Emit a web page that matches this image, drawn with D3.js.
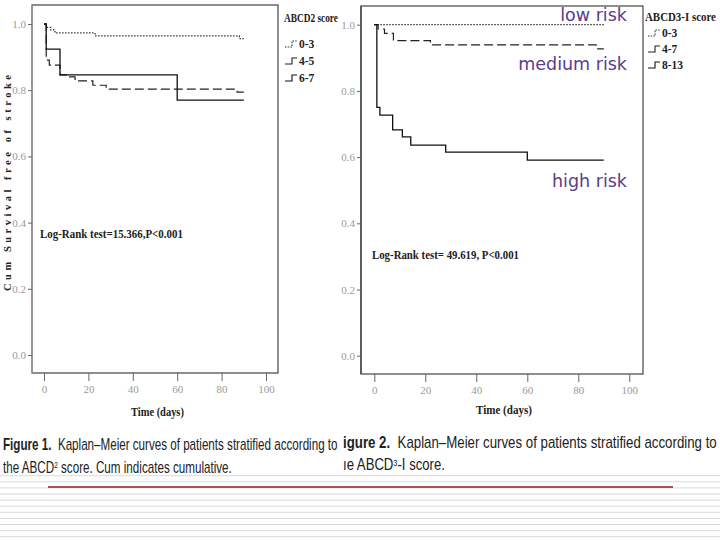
<!DOCTYPE html>
<html><head><meta charset="utf-8">
<script src="https://cdn.jsdelivr.net/npm/d3@7"></script>
<style>
html,body{margin:0;padding:0;background:#fff;}
svg{display:block;}
</style></head>
<body>
<script>
// ---------- data ----------
const xTickValues = [0, 20, 40, 60, 80, 100];
const yTickValues = [0.0, 0.2, 0.4, 0.6, 0.8, 1.0];

const abcd2Groups = ["0-3", "4-5", "6-7"];
const abcd2Time03 = [0, 1, 3, 5, 23, 88, 90];
const abcd2Surv03 = [1.0, 0.99, 0.982, 0.973, 0.964, 0.956, 0.956];
const abcd2Time45 = [0, 1, 2.4, 7.2, 11, 14, 22, 28, 87, 90];
const abcd2Surv45 = [1.0, 0.891, 0.876, 0.846, 0.840, 0.828, 0.815, 0.803, 0.794, 0.794];
const abcd2Time67 = [0, 1, 7.2, 60, 90];
const abcd2Surv67 = [1.0, 0.924, 0.846, 0.770, 0.770];

const abcd3Groups = ["0-3", "4-7", "8-13"];
const abcd3Time03 = [0, 90];
const abcd3Surv03 = [1.0, 1.0];
const abcd3Time47 = [0, 1.5, 4, 7.5, 22, 87, 90];
const abcd3Surv47 = [1.0, 0.987, 0.974, 0.952, 0.939, 0.927, 0.927];
const abcd3Time813 = [0, 1, 2.2, 7.2, 11, 14.3, 28, 60, 90];
const abcd3Surv813 = [1.0, 0.75, 0.727, 0.682, 0.661, 0.636, 0.615, 0.591, 0.591];

const riskLabels = ["low risk", "medium risk", "high risk"];
const logRank1 = "Log-Rank test=15.366,P\u003C0.001";
const logRank2 = "Log-Rank test= 49.619, P\u003C0.001";

// ---------- drawing ----------
const svg = d3.select("body").append("svg").attr("width", 720).attr("height", 540);
const serif = "'Liberation Serif','DejaVu Serif',serif";
const styles = [
  {dash: "1.5,1.5", width: 1.2, color: "#333"},
  {dash: "9,4", width: 1.2, color: "#222"},
  {dash: null, width: 1.3, color: "#111"}
];

// squeeze a text horizontally to a given width (like a condensed face)
function fit(sel, x, y, width) {
  sel.attr("x", 0).attr("y", 0);
  const w = sel.node().getComputedTextLength();
  sel.attr("transform", `translate(${x},${y}) scale(${(width / w).toFixed(4)},1)`);
  return sel;
}

function panel(cfg) {
  const g = svg.append("g");
  const x = d3.scaleLinear().domain([0, 100]).range(cfg.xr);
  const y = d3.scaleLinear().domain([0, 1]).range(cfg.yr);
  g.append("rect").attr("x", cfg.box[0]).attr("y", cfg.box[1])
    .attr("width", cfg.box[2] - cfg.box[0]).attr("height", cfg.box[3] - cfg.box[1])
    .attr("fill", "none").attr("stroke", "#444").attr("stroke-width", 1.2);
  g.append("line").attr("x1", cfg.box[0]).attr("x2", cfg.box[0])
    .attr("y1", cfg.box[1]).attr("y2", cfg.box[3])
    .attr("stroke", cfg.leftColor).attr("stroke-width", 1.3);
  const ya = g.append("g").attr("transform", `translate(${cfg.box[0]},0)`)
    .call(d3.axisLeft(y).tickValues(yTickValues).tickFormat(d3.format(".1f")).tickSize(4).tickPadding(2));
  const xa = g.append("g").attr("transform", `translate(0,${cfg.box[3]})`)
    .call(d3.axisBottom(x).tickValues(xTickValues).tickFormat(d3.format("d")).tickSize(8).tickPadding(4));
  [ya, xa].forEach(a => {
    a.select(".domain").remove();
    a.selectAll(".tick line").attr("stroke", "#666");
    a.selectAll("text").attr("fill", "#9a9a9a").attr("font-family", serif).attr("font-size", 11);
  });
  const line = d3.line().x(d => x(d[0])).y(d => y(d[1])).curve(d3.curveStepAfter);
  cfg.series.forEach((s, i) => {
    const pts = s.t.map((t, k) => [t, s.s[k]]);
    g.append("path").attr("d", line(pts)).attr("fill", "none")
      .attr("stroke", styles[i].color).attr("stroke-width", styles[i].width)
      .attr("stroke-dasharray", styles[i].dash);
  });
  fit(g.append("text").text(cfg.legTitle)
    .attr("font-family", serif).attr("font-size", 12).attr("font-weight", "bold").attr("fill", "#222"),
    cfg.leg[0], cfg.leg[1], cfg.legW);
  cfg.groups.forEach((name, i) => {
    const yy = cfg.leg[1] + cfg.legDy0 + i * cfg.legStep;
    const lx = cfg.leg[0] + cfg.legIndent;
    g.append("path").attr("d", `M${lx},${yy - 1}h7v-6h5`).attr("fill", "none")
      .attr("stroke", styles[i].color).attr("stroke-width", 1.1)
      .attr("stroke-dasharray", i === 0 ? "1.5,1.2" : null);
    g.append("text").attr("x", lx + 14).attr("y", yy).text(name)
      .attr("font-family", serif).attr("font-size", 11.5).attr("font-weight", "bold").attr("fill", "#222");
  });
  fit(g.append("text").text(cfg.lrText)
    .attr("font-family", serif).attr("font-size", 12.5).attr("font-weight", "bold").attr("fill", "#222"),
    cfg.lr[0], cfg.lr[1], cfg.lr[2]);
  fit(g.append("text").text("Time (days)")
    .attr("font-family", serif).attr("font-size", 13).attr("font-weight", "bold").attr("fill", "#222"),
    cfg.xt[0], cfg.xt[1], cfg.xt[2]);
  return {x, y, g};
}

panel({
  xr: [44, 266], yr: [355, 24], box: [32, 5, 278, 373], leftColor: "#9a9a9a",
  series: [{t: abcd2Time03, s: abcd2Surv03}, {t: abcd2Time45, s: abcd2Surv45}, {t: abcd2Time67, s: abcd2Surv67}],
  groups: abcd2Groups, legTitle: "ABCD2 score", leg: [284, 22], legW: 54, legIndent: 1, legDy0: 26, legStep: 17,
  lr: [40, 238, 143], lrText: logRank1, xt: [131, 416, 53]
});
svg.append("text").attr("transform", "translate(11,183) rotate(-90)").attr("text-anchor", "middle")
  .text("Cum Survival free of stroke").attr("font-family", serif).attr("font-size", 10.5)
  .attr("font-weight", "bold").attr("fill", "#222")
  .attr("textLength", 216).attr("lengthAdjust", "spacing");

panel({
  xr: [374.3, 629.3], yr: [355.7, 24.7], box: [361, 6, 643, 374], leftColor: "#444",
  series: [{t: abcd3Time03, s: abcd3Surv03}, {t: abcd3Time47, s: abcd3Surv47}, {t: abcd3Time813, s: abcd3Surv813}],
  groups: abcd3Groups, legTitle: "ABCD3-I score", leg: [645, 21], legW: 71, legIndent: 3, legDy0: 16, legStep: 16,
  lr: [372, 259, 147], lrText: logRank2, xt: [476, 414, 56]
});

const riskPos = [[627, 21], [627, 70], [627, 187]];
riskLabels.forEach((t, i) => {
  svg.append("text").attr("x", riskPos[i][0]).attr("y", riskPos[i][1]).text(t)
    .attr("text-anchor", "end").attr("font-family", "'DejaVu Sans',Verdana,sans-serif")
    .attr("font-size", 17.5).attr("fill", "#5b3c8c");
});

// ---------- bottom stripes and captions ----------
const stripes = d3.range(11).map(i => 475.7 + i * 6.1);
svg.selectAll("line.stripe").data(stripes).enter().append("line")
  .attr("x1", 0).attr("x2", 720).attr("y1", d => d).attr("y2", d => d)
  .attr("stroke", "#d9d9d9").attr("stroke-width", 1);
svg.append("line").attr("x1", 48).attr("x2", 673).attr("y1", 487).attr("y2", 487)
  .attr("stroke", "#8e1f24").attr("stroke-width", 1.4);

const capFont = "'Liberation Sans','Arial',sans-serif";
function caption(x, y, width, parts) {
  const t = svg.append("text").attr("font-family", capFont).attr("font-size", 16).attr("fill", "#222");
  parts.forEach(p => {
    const s = t.append("tspan").text(p.t);
    if (p.bold) s.attr("font-weight", "bold");
    if (p.sup) s.attr("font-size", 9).attr("baseline-shift", "super");
  });
  fit(t, x, y, width);
}
caption(3, 450, 335, [{t: "Figure 1.", bold: true}, {t: "\u00a0 Kaplan\u2013Meier curves of patients stratified according to"}]);
caption(3, 473, 229, [{t: "the ABCD"}, {t: "2", sup: true}, {t: " score. Cum indicates cumulative."}]);
caption(343, 448, 374, [{t: "igure 2.", bold: true}, {t: "\u00a0 Kaplan\u2013Meier curves of patients stratified according to"}]);
caption(343, 470, 102, [{t: "\u0131e ABCD"}, {t: "3", sup: true}, {t: "-I score."}]);
</script>
</body></html>
